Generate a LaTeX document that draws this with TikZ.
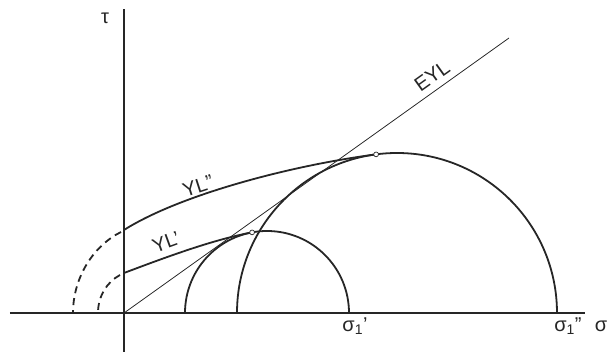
\documentclass[tikz,border=0pt]{standalone}
\usepackage{fontspec}
\setmainfont{Liberation Sans}
\usepackage{xcolor}
\usetikzlibrary{positioning}
\definecolor{ink}{gray}{0.15}

\begin{document}
\begin{tikzpicture}[x=1pt,y=1pt,
  lbl/.style={font=\fontsize{20}{22}\selectfont,inner sep=0pt,text=ink},
  axis/.style={line width=1.6pt,ink},
  curve/.style={line width=1.8pt,ink},
  guess/.style={line width=1.8pt,ink,dash pattern=on 7pt off 5pt},
  tick/.style={line width=0.7pt,ink,fill=white}]
  \useasboundingbox (-124,-39) rectangle (487,313);
  % frame
  \coordinate (O) at (0,0);
  \draw[axis] (-114,0) -- (461,0);
  \draw[axis] (0,-39) -- (0,304);
  \node[lbl] (tau) at (-19,295) {τ};
  \node[lbl] (sig) at (477,-13) {σ};
  % Mohr circles: sigma1' (centre 143, r 82) and sigma1'' (centre 273, r 160)
  \def\cs{143} \def\rs{82}
  \def\cb{273} \def\rb{160}
  \draw[curve] (\cs-\rs,0) arc[start angle=180,end angle=0,radius=\rs];
  \draw[curve] (\cb-\rb,0) arc[start angle=180,end angle=0,radius=\rb];
  \node[lbl] (s1a) at (231,-13) {σ\textsubscript{1}'};
  \node[lbl] (s1b) at (444,-13) {σ\textsubscript{1}''};
  % effective yield locus through the origin
  \coordinate (eyl) at (385,275);
  \draw[line width=0.8pt,ink] (O) -- (eyl);
  \node[lbl,rotate=35.5] (eyltxt) at (308,237) {EYL};
  % yield loci, ending where they touch the circles
  \coordinate (ta) at (128.1,80.6);
  \coordinate (tb) at (252.1,158.6);
  \coordinate (ya) at (0,40);
  \coordinate (yb) at (0,83);
  \draw[curve] (ya) .. controls (45,57) and (90,73.5) .. (ta);
  \draw[curve] (yb) .. controls (57,119) and (170,148) .. (tb);
  \node[lbl,rotate=20] (yltxta) at (42,71) {YL'};
  \node[lbl,rotate=18] (yltxtb) at (74,127) {YL''};
  % extrapolated part down to the sigma axis
  \draw[guess] (-4,38) .. controls (-17,31) and (-26,17) .. (-26,0);
  \draw[guess] (-3,81) .. controls (-31,67) and (-51,35) .. (-51,0);
  % touching points
  \foreach \p in {ta,tb}{
    \draw[tick] (\p) circle[radius=2.4];
  }
\end{tikzpicture}
\end{document}
